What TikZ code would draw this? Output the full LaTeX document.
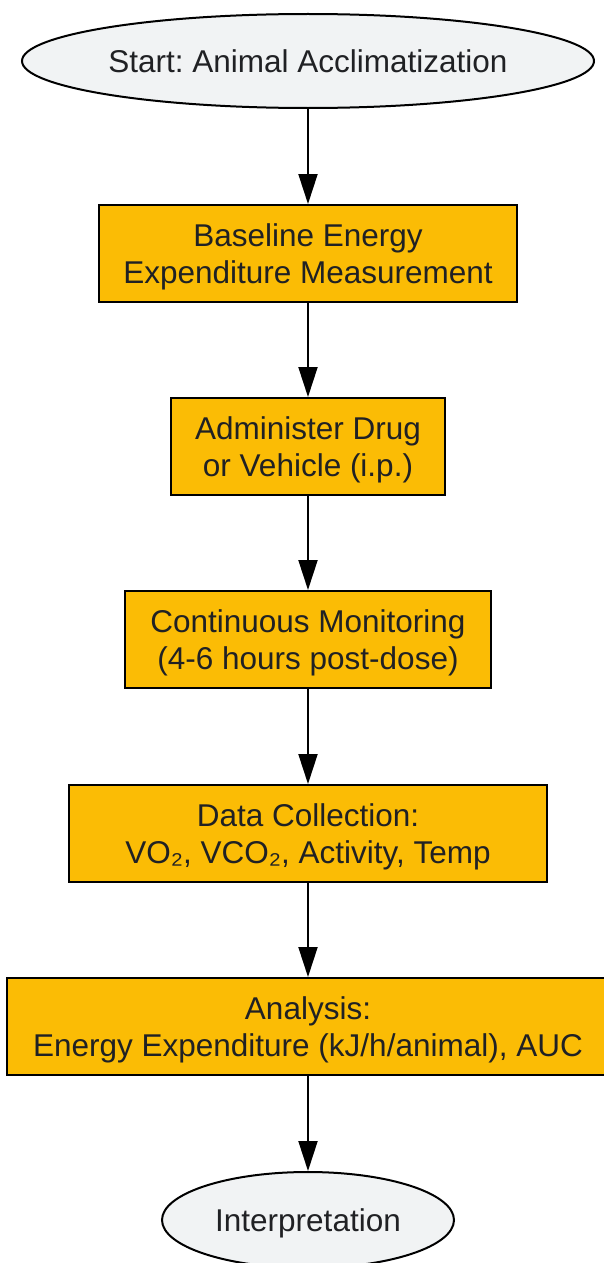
\documentclass[tikz,border=0pt]{standalone}
\usepackage{fontspec}
\setmainfont{Liberation Sans}
\frenchspacing
\usetikzlibrary{shapes.geometric,arrows.meta}
\definecolor{boxfill}{HTML}{FBBC05}
\definecolor{ellfill}{HTML}{F1F3F4}
\definecolor{txt}{HTML}{202124}
\tikzset{
  x=1pt,y=-1pt,
  base/.style={draw=black,line width=2pt,text=txt,align=center,inner sep=0pt,
    font=\fontsize{31.5}{37}\selectfont},
  stepbox/.style={base,rectangle,fill=boxfill,text depth=-6pt},
  term/.style={base,ellipse,fill=ellfill},
  flow/.style={line width=2pt,-{Triangle[length=30pt,width=19pt]}},
}
\begin{document}
\begin{tikzpicture}
\useasboundingbox (0,0) rectangle (604,1263);
\node[term,minimum width=572pt,minimum height=94pt] (start) at (308,61) {Start: Animal Acclimatization};
\node[stepbox,minimum width=418pt,minimum height=97pt] (b1) at (308,253.5) {Baseline Energy\\Expenditure Measurement};
\node[stepbox,minimum width=274pt,minimum height=97pt] (b2) at (308,446.5) {Administer Drug\\or Vehicle (i.p.)};
\node[stepbox,minimum width=366pt,minimum height=97pt] (b3) at (308,639.5) {Continuous Monitoring\\(4-6 hours post-dose)};
\node[stepbox,minimum width=478pt,minimum height=97pt] (b4) at (308,833.5) {Data Collection:\\VO₂, VCO₂, Activity, Temp};
\node[stepbox,minimum width=602pt,minimum height=97pt] (b5) at (308,1026.5) {Analysis:\\Energy Expenditure (kJ/h/animal), AUC};
\node[term,minimum width=292pt,minimum height=96pt,text depth=-2pt] (end) at (308,1220) {Interpretation};
\draw[flow] (start) -- (b1);
\draw[flow] (b1) -- (b2);
\draw[flow] (b2) -- (b3);
\draw[flow] (b3) -- (b4);
\draw[flow] (b4) -- (b5);
\draw[flow] (b5) -- (end);
\end{tikzpicture}
\end{document}
